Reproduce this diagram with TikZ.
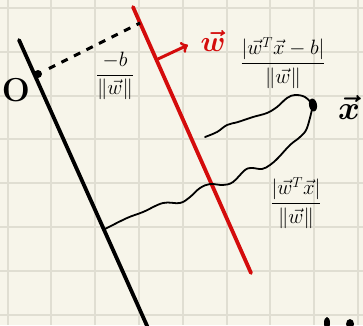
\documentclass[tikz,border=0pt]{standalone}
\usepackage{amssymb,amsfonts,amsmath}
\usepackage{color}
\usepackage{tikz}
\usetikzlibrary{shapes,arrows,positioning}
\definecolor{paper}{RGB}{247,245,234}
\definecolor{gridc}{RGB}{224,222,210}
\definecolor{penred}{RGB}{212,12,12}
\tikzset{
  hyper/.style={line width=3.8pt, line cap=round},
  wave/.style={line width=1.8pt, line cap=round, line join=round},
  lbl/.style={font=\huge, inner sep=0pt},
  bigsym/.style={font=\huge\boldmath\bfseries, inner sep=0pt},
}

\begin{document}
\begin{tikzpicture}[x=1pt,y=-1pt]
				\useasboundingbox (0,0) rectangle (363,325);
				\clip (0,0) rectangle (363,325);
				\fill[paper] (0,0) rectangle (363,325);
				\foreach \k in {0,...,8} \draw[gridc, line width=2pt] ({7.5+43.8*\k},0) -- ({7.5+43.8*\k},325);
				\foreach \k in {0,...,7} \draw[gridc, line width=2pt] (0,{8+43.8*\k}) -- (363,{8+43.8*\k});
				% the two parallel lines
				\coordinate (b1) at (19,40);
				\coordinate (b2) at (148,328);
				\coordinate (r1) at (133,7);
				\coordinate (r2) at (251,273);
				\draw [hyper] (b1) -- (b2);
				\draw [hyper, draw=penred] (r1) -- (r2);
				% origin and distance to the red line
				\node [circle, fill, inner sep=0pt, minimum size=8pt] (o) at (38,74) {};
				\coordinate (foot) at (140,23);
				\draw [line width=3pt, dash pattern=on 7pt off 7pt, shorten <=8pt] (o) -- (foot);
				\node [bigsym, scale=1.6] (olab) at (16,90) {O};
				% normal vector
				\coordinate (wbase) at (158,59);
				\coordinate (wtip) at (188,45);
				\draw [->] [line width=3pt, draw=penred] (wbase) -- (wtip);
				\node [bigsym, scale=1.4, text=penred] (wlab) at (213,41) {$\vec w$};
				% the point x and its distances
				\node [ellipse, fill, inner sep=0pt, minimum width=8pt, minimum height=13pt, rotate=10] (xp) at (313,105) {};
				\node [bigsym, scale=1.6] (xlab) at (349,107) {$\vec x$};
				\coordinate (w1) at (205,137);
				\coordinate (f) at (105,229);
				\draw [wave] plot [smooth, tension=0.6] coordinates {(w1) (217,132) (227,125) (238,122) (253,117) (267,113) (277,107) (287,98) (295,95) (305,97) (xp)};
				\draw [wave] plot [smooth, tension=0.6] coordinates {(f) (127,218) (143,212) (163,203) (180,203) (190,197) (200,188) (210,184) (223,185) (233,182) (245,170) (252,168) (262,169) (270,165) (278,158) (290,145) (300,137) (307,128) (xp)};
				\node [lbl] (bias) at (115,76) {$\dfrac{-b}{\|\vec w\|}$};
				\node [lbl] (dist) at (283,63) {$\dfrac{|\vec w^{T}\vec x-b|}{\|\vec w\|}$};
				\node [lbl] (proj) at (296,203) {$\dfrac{|\vec w^{T}\vec x|}{\|\vec w\|}$};
				% cut-off marks at the lower edge
				\fill (327,323) ellipse (3 and 6);
				\fill (350,324) ellipse (4 and 5);
				\end{tikzpicture}
\end{document}
